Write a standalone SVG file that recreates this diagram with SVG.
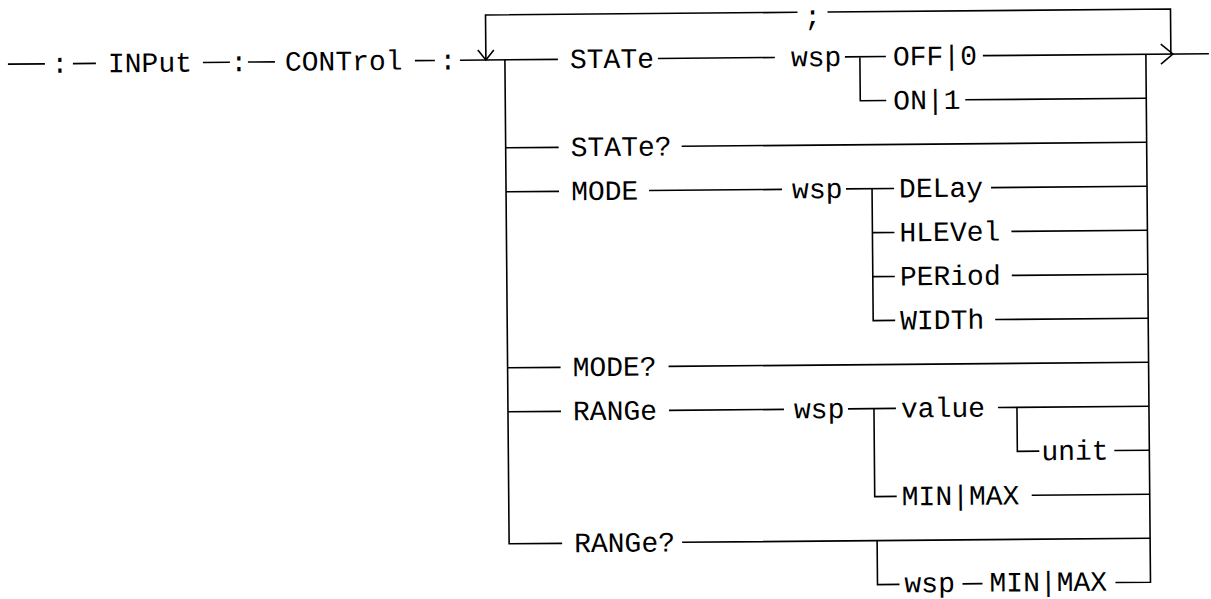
<svg xmlns="http://www.w3.org/2000/svg" width="1211" height="599" viewBox="0 0 1211 599">
<style>
text{font-family:"Liberation Mono","DejaVu Sans Mono",monospace;font-size:28px;fill:#000}
.c path{fill:none;stroke:#000;stroke-width:1.6}
</style>
<rect width="1211" height="599" fill="#fff"/>
<g transform="rotate(-0.5 600 300)">
<g class="c" id="connectors">
<path d="M10,59H47M75,59H98M205,59H232M250,59H277M417,59H437M462,59H560"/>
<path d="M488,59V14H800M830,14H1173V59"/>
<path d="M480,49L488,59L496,49"/>
<path d="M1163,49L1175,59L1163,69"/>
<path d="M985,59H1211"/>
<path d="M507,59V543H560M507,147H560M507,191H560M507,367H560M507,411H560"/>
<path d="M1148,59V587H1113"/>
<path d="M660,59H777M847,59H888M862,59V103H888M967,103H1148"/>
<path d="M683,147H1148"/>
<path d="M650,191H783M847,191H895M873,191V323H895M873,235H895M873,279H895"/>
<path d="M992,191H1148M1012,235H1148M1012,279H1148M995,323H1148"/>
<path d="M668,367H1148"/>
<path d="M668,411H783M847,411H895M873,411V499H895M997,411H1148M1016,411V455H1038M1113,455H1148M1030,499H1148"/>
<path d="M680,543H1148M875,543V587H897M960,587H980"/>
</g>
<g id="n-colon1"><text x="62" y="68" text-anchor="middle">:</text></g>
<g id="n-input"><text x="110" y="68">INPut</text></g>
<g id="n-colon2"><text x="241" y="68" text-anchor="middle">:</text></g>
<g id="n-control"><text x="287" y="68">CONTrol</text></g>
<g id="n-colon3"><text x="450" y="68" text-anchor="middle">:</text></g>
<g id="n-semicolon"><text x="815" y="27" text-anchor="middle">;</text></g>
<g id="n-state"><text x="572" y="68">STATe</text></g>
<g id="n-wsp1"><text x="793" y="68">wsp</text></g>
<g id="n-off"><text x="895" y="68">OFF|0</text></g>
<g id="n-on"><text x="895" y="112">ON|1</text></g>
<g id="n-stateq"><text x="572" y="156">STATe?</text></g>
<g id="n-mode"><text x="572" y="200">MODE</text></g>
<g id="n-wsp2"><text x="793" y="200">wsp</text></g>
<g id="n-delay"><text x="900" y="200">DELay</text></g>
<g id="n-hlevel"><text x="900" y="244">HLEVel</text></g>
<g id="n-period"><text x="900" y="288">PERiod</text></g>
<g id="n-width"><text x="900" y="332">WIDTh</text></g>
<g id="n-modeq"><text x="572" y="376">MODE?</text></g>
<g id="n-range"><text x="572" y="420">RANGe</text></g>
<g id="n-wsp3"><text x="793" y="420">wsp</text></g>
<g id="n-value"><text x="900" y="420">value</text></g>
<g id="n-unit"><text x="1040" y="464">unit</text></g>
<g id="n-minmax1"><text x="900" y="508">MIN|MAX</text></g>
<g id="n-rangeq"><text x="572" y="552">RANGe?</text></g>
<g id="n-wsp4"><text x="902" y="595">wsp</text></g>
<g id="n-minmax2"><text x="987" y="595">MIN|MAX</text></g>
</g>
</svg>
